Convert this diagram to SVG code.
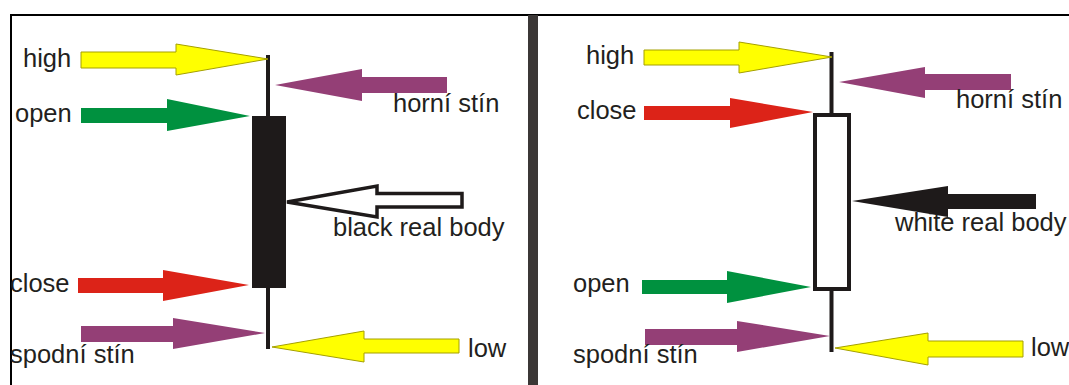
<svg xmlns="http://www.w3.org/2000/svg" width="1069" height="385" viewBox="0 0 1069 385">
  <style>
    .lbl { font-family: "Liberation Sans", Arial, sans-serif; font-size: 25.5px; fill: #231f20; }
    .frame { stroke: #000; stroke-width: 2; fill: none; }
    .wick { fill: #1e1a1a; }
    .yellow { fill: #ffff00; stroke: #a5a000; stroke-width: 1; }
    .green { fill: #00913f; }
    .red { fill: #dc2318; }
    .purple { fill: #943f76; }
    .hollow { fill: #fff; stroke: #1e1a1a; stroke-width: 3.5; stroke-linejoin: miter; }
    .solid { fill: #1e1a1a; }
  </style>

  <rect width="1069" height="385" fill="#fff"/>

  <!-- frame and panel divider -->
  <g id="frame">
    <line class="frame" x1="11" y1="15" x2="1069" y2="15"/>
    <line class="frame" x1="11" y1="14" x2="11" y2="385"/>
    <rect x="528" y="15" width="10" height="370" fill="#3b3736"/>
  </g>

  <!-- bearish candle -->
  <g id="black-candle">
    <rect class="wick" x="266" y="55" width="4" height="294"/>
    <rect x="252" y="116" width="34" height="172" fill="#1e1a1a"/>
  </g>

  <!-- bullish candle -->
  <g id="white-candle">
    <rect class="wick" x="829.5" y="52" width="4" height="300"/>
    <rect x="815" y="115" width="34" height="174" fill="#fff" stroke="#1e1a1a" stroke-width="4"/>
  </g>

  <!-- pointer arrows -->
  <g id="connectors">
    <!-- left panel -->
    <polygon class="yellow" points="81,52 176,52 176,44 268,59 176,75 176,68 81,68"/>
    <polygon class="green" points="81,108 167,108 167,99 250,116 167,131 167,123 81,123"/>
    <polygon class="purple" points="447,77 362,77 362,69 275,85 362,101 362,93 447,93"/>
    <polygon class="hollow" points="287,202 377,186 377,193.5 462,193.5 462,207 377,207 377,217"/>
    <polygon class="red" points="78,278 163,278 163,270 249,285 163,301 163,293 78,293"/>
    <polygon class="purple" points="81,326 173,326 173,318 265,333 173,349 173,342 81,342"/>
    <polygon class="yellow" points="459,339 364,339 364,331 272,347 364,362 364,353 459,353"/>

    <!-- right panel -->
    <polygon class="yellow" points="644,50 739,50 739,42 832,57 739,73 739,65 644,65"/>
    <polygon class="red" points="644,106 730,106 730,98 813,112 730,128 730,120 644,120"/>
    <polygon class="purple" points="1011,74 925,74 925,67 839,82 925,98 925,90 1011,90"/>
    <polygon class="solid" points="852,201 948,186 948,194 1036,194 1036,209 948,209 948,217"/>
    <polygon class="green" points="642,280 727,280 727,271 811,287 727,303 727,294 642,294"/>
    <polygon class="purple" points="645,329 737,329 737,321 830,336 737,352 737,345 645,345"/>
    <polygon class="yellow" points="1023,341 928,341 928,333 835,348 928,365 928,357 1023,357"/>
  </g>

  <!-- labels, left panel -->
  <g id="labels-left">
    <text class="lbl" x="23" y="67">high</text>
    <text class="lbl" x="15" y="122">open</text>
    <text class="lbl" x="393" y="112">horní stín</text>
    <text class="lbl" x="333" y="236">black real body</text>
    <text class="lbl" x="10" y="292">close</text>
    <text class="lbl" x="10" y="363">spodní stín</text>
    <text class="lbl" x="468" y="357">low</text>
  </g>

  <!-- labels, right panel -->
  <g id="labels-right">
    <text class="lbl" x="586" y="64">high</text>
    <text class="lbl" x="577" y="119">close</text>
    <text class="lbl" x="956" y="108">horní stín</text>
    <text class="lbl" x="895" y="231">white real body</text>
    <text class="lbl" x="573" y="292">open</text>
    <text class="lbl" x="573" y="363">spodní stín</text>
    <text class="lbl" x="1031" y="356">low</text>
  </g>
</svg>
